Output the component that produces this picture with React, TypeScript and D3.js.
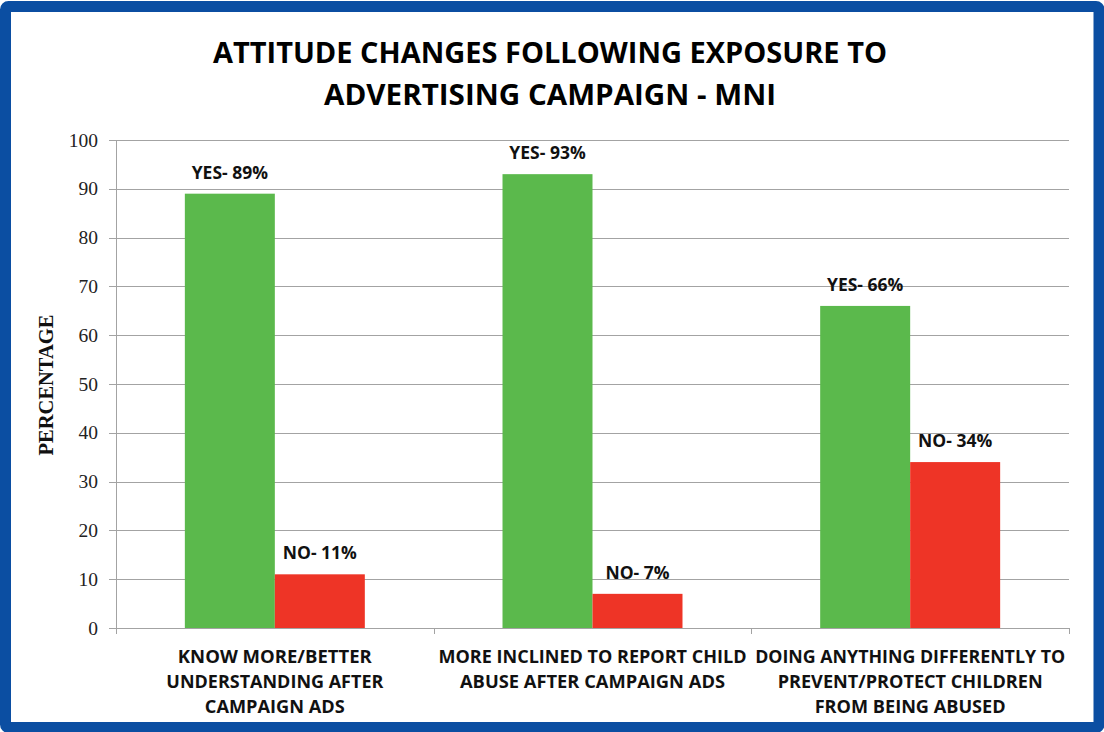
import React from "react";
import * as d3 from "d3";

const categories: string[][] = [
  ["KNOW MORE/BETTER", "UNDERSTANDING AFTER", "CAMPAIGN ADS"],
  ["MORE INCLINED TO REPORT CHILD", "ABUSE AFTER CAMPAIGN ADS"],
  ["DOING ANYTHING DIFFERENTLY TO", "PREVENT/PROTECT CHILDREN", "FROM BEING ABUSED"],
];
const categoryLineWidths: number[][] = [
  [194, 217, 140],
  [308, 265],
  [310, 265, 191],
];
const seriesKeys = ["YES", "NO"];
const yesValues = [89, 93, 66];
const noValues = [11, 7, 34];
const yTicks = [0, 10, 20, 30, 40, 50, 60, 70, 80, 90, 100];
const titleLines = ["ATTITUDE CHANGES FOLLOWING EXPOSURE TO", "ADVERTISING CAMPAIGN - MNI"];
const titleWidths = [674, 452];
const yAxisTitle = "PERCENTAGE";

const W = 1104;
const H = 732;
const plot = { left: 116, right: 1069, top: 140, bottom: 628 };
const colors: Record<string, string> = { YES: "#5bb94c", NO: "#ee3426" };
const gridColor = "#a3a3a3";
const sans = "'Open Sans', 'Liberation Sans', sans-serif";
const serif = "'Liberation Serif', 'Times New Roman', serif";

export default function App() {
  const catIdx = categories.map((_, i) => String(i));
  const x0 = d3.scaleBand<string>().domain(catIdx).range([plot.left, plot.right]).paddingInner(0).paddingOuter(0);
  const x1 = d3.scaleBand<string>().domain(seriesKeys).range([0, x0.bandwidth()]).paddingInner(0).paddingOuter(0.765);
  const y = d3.scaleLinear().domain([0, 100]).range([plot.bottom, plot.top]);

  const data = catIdx.map((c, i) => ({ c, YES: yesValues[i], NO: noValues[i] }));
  const boundaries = d3.range(categories.length + 1).map((i) => plot.left + i * x0.step());

  return (
    <svg width={W} height={H} style={{ position: "absolute", left: 0, top: 0, background: "#fff" }}>
      <rect x={0} y={0} width={W} height={H} fill="#fff" />
      {titleLines.map((t, i) => (
        <text
          key={t}
          x={550}
          y={63 + i * 42}
          textAnchor="middle"
          fontFamily={sans}
          fontWeight={700}
          fontSize={28.5}
          textLength={titleWidths[i]}
          lengthAdjust="spacingAndGlyphs"
          fill="#000"
        >
          {t}
        </text>
      ))}
      {yTicks.map((t) => (
        <g key={t}>
          <line x1={plot.left - 7} x2={plot.right} y1={Math.round(y(t)) + 0.5} y2={Math.round(y(t)) + 0.5} stroke={gridColor} strokeWidth={1} />
          <text x={98} y={y(t) + 6.5} textAnchor="end" fontFamily={serif} fontSize={19.5} fill="#222">
            {t}
          </text>
        </g>
      ))}
      <line x1={plot.left + 0.5} x2={plot.left + 0.5} y1={plot.top} y2={plot.bottom + 6} stroke={gridColor} strokeWidth={1} />
      {boundaries.map((b, i) => (
        <line key={i} x1={Math.round(b) + 0.5} x2={Math.round(b) + 0.5} y1={plot.bottom} y2={plot.bottom + 6} stroke={gridColor} strokeWidth={1} />
      ))}
      {data.map((d) => (
        <g key={d.c} transform={`translate(${x0(d.c)},0)`}>
          {seriesKeys.map((k) => {
            const v = (d as any)[k] as number;
            const bx = x1(k)!;
            return (
              <g key={k}>
                <rect x={bx} y={y(v)} width={x1.bandwidth()} height={y(0) - y(v)} fill={colors[k]} />
                <text
                  x={bx + x1.bandwidth() / 2}
                  y={y(v) - 15}
                  textAnchor="middle"
                  fontFamily={sans}
                  fontWeight={700}
                  fontSize={17.5}
                  fill="#111"
                >
                  {`${k}- ${v}%`}
                </text>
              </g>
            );
          })}
        </g>
      ))}
      {categories.map((lines, i) => (
        <g key={i}>
          {lines.map((ln, j) => (
            <text
              key={ln}
              x={x0(String(i))! + x0.bandwidth() / 2}
              y={663 + j * 25}
              textAnchor="middle"
              fontFamily={sans}
              fontWeight={700}
              fontSize={17.5}
              textLength={categoryLineWidths[i][j]}
              lengthAdjust="spacingAndGlyphs"
              fill="#111"
            >
              {ln}
            </text>
          ))}
        </g>
      ))}
      <text
        transform="translate(53,385) rotate(-90)"
        textAnchor="middle"
        fontFamily={serif}
        fontWeight={700}
        fontSize={20.5}
        fill="#111"
      >
        {yAxisTitle}
      </text>
      <rect x={5.5} y={6.5} width={1093.5} height={721} rx={3} fill="none" stroke="#0b4ea2" strokeWidth={11} />
    </svg>
  );
}
